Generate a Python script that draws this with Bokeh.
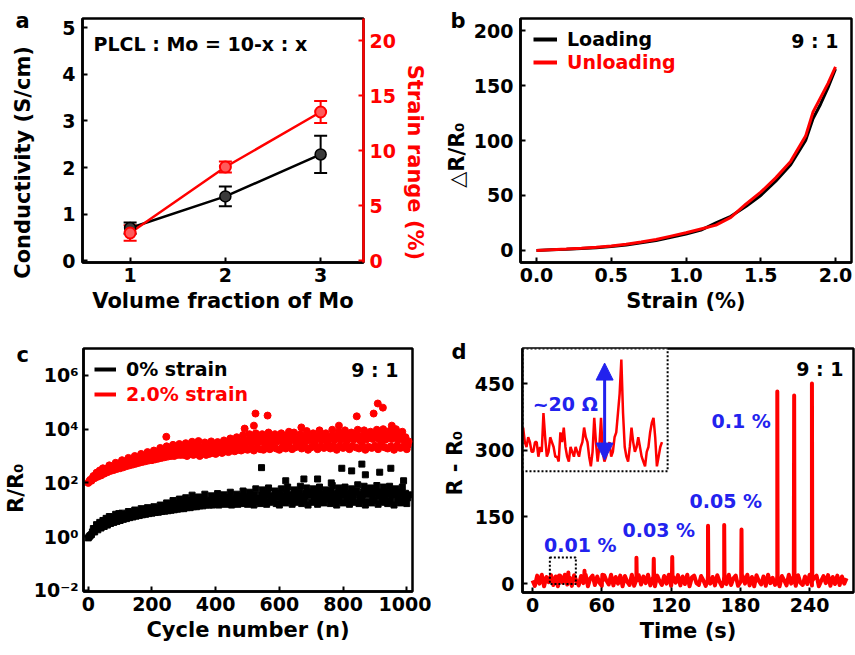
import numpy as np
from bokeh.plotting import figure
from bokeh.layouts import column, row
from bokeh.models import (Range1d, LinearAxis, FixedTicker, Whisker, TeeHead, ColumnDataSource,
                          Label, Legend, LegendItem, Arrow, NormalHead, NumeralTickFormatter)
from bokeh.embed import file_html
from bokeh.resources import INLINE

FONT = "DejaVu Sans"
RED = "#ff0000"
BLUE = "#2222ee"
NB = "\u00a0"  # non-breaking space used to nudge axis titles along their axis

# ---------------- data: panel a ----------------
a_fraction = [1, 2, 3]
a_conductivity = [0.70, 1.38, 2.28]
a_conductivity_err = [0.12, 0.21, 0.40]
a_strain_range = [2.5, 8.5, 13.5]
a_strain_range_err = [0.7, 0.5, 1.0]

# ---------------- data: panel b ----------------
b_strain = [0.0, 0.1, 0.2, 0.3, 0.4, 0.5, 0.6, 0.7, 0.8, 0.9, 1.0, 1.1, 1.2, 1.3, 1.4,
            1.5, 1.6, 1.7, 1.8, 1.85, 1.9, 1.95, 2.0]
b_loading = [0, 0.5, 1.0, 1.7, 2.5, 3.5, 5.0, 7.0, 9.0, 12, 15, 18.5, 25, 31, 40,
             50, 63, 78, 100, 120, 133, 148, 165]
b_unloading = [0, 0.6, 1.2, 1.9, 2.8, 4.0, 5.6, 7.6, 10, 13, 16, 19.5, 23, 30, 42,
               53, 66, 81, 104, 126, 139, 152, 167]

# ---------------- data: panel c ----------------
c_cycles = list(range(0, 1001, 10))
c_black_a = [1.1, 2.0, 2.8, 3.4, 4.0, 4.8, 5.6, 5.0, 6.8, 7.2,
             7.5, 6.0, 8.6, 7.6, 9.8, 8.6, 11, 9.4, 12, 10,
             13, 9.5, 15, 12, 18, 11, 22, 14, 25, 16,
             28, 18, 35, 21, 30, 23, 38, 20, 33, 26,
             40, 21, 36, 28, 45, 23, 38, 31, 50, 26,
             45, 31, 60, 26, 55, 36, 65, 29, 50, 41,
             60, 31, 70, 36, 55, 41, 75, 31, 65, 46,
             60, 36, 70, 41, 55, 46, 80, 36, 65, 51,
             70, 41, 60, 46, 85, 36, 75, 51, 65, 41,
             80, 46, 70, 41, 75, 51, 60, 46, 70, 41,
             36]
c_black_m = [1.0, 1.5, 2.0, 2.5, 2.9, 3.4, 3.9, 3.8, 4.6, 5.1,
             5.4, 5.0, 6.4, 6.1, 7.4, 7.0, 8.4, 7.8, 9.2, 8.6,
             10, 8.6, 11.5, 10.2, 13, 10, 15, 12, 17, 13,
             19, 15, 22, 17, 20, 18, 24, 17, 22, 20,
             26, 18, 25, 22, 29, 19, 26, 23, 32, 21,
             30, 25, 36, 23, 34, 28, 40, 24, 33, 30,
             38, 25, 42, 28, 35, 30, 45, 25, 40, 33,
             38, 29, 42, 31, 35, 34, 48, 29, 40, 36,
             42, 32, 38, 34, 50, 28, 45, 36, 40, 31,
             48, 34, 43, 31, 45, 37, 38, 34, 43, 31,
             28]
c_black_b = [0.9, 1.2, 1.5, 1.8, 2.1, 2.4, 2.7, 3.1, 3.4, 3.7,
             4.0, 4.4, 4.7, 5.1, 5.4, 5.8, 6.1, 6.5, 6.8, 7.2,
             7.5, 7.9, 8.1, 8.6, 8.9, 9.2, 9.6, 10, 10.5, 11,
             11, 12, 12, 13, 13, 14, 14, 15, 15, 15,
             16, 15, 17, 16, 18, 15, 17, 16, 18, 17,
             16, 19, 15, 20, 17, 22, 16, 19, 21, 17,
             15, 20, 18, 22, 16, 19, 24, 17, 21, 15,
             19, 23, 16, 20, 18, 25, 17, 21, 15, 22,
             18, 24, 16, 21, 19, 17, 23, 15, 20, 18,
             22, 16, 25, 19, 17, 21, 15, 23, 18, 20,
             17]
c_red_a = [130, 180, 240, 290, 350, 330, 450, 400, 560, 520,
           700, 600, 850, 750, 1000, 850, 1200, 950, 1400, 1100,
           1600, 1200, 2000, 1400, 2300, 1600, 2600, 1800, 2800, 2000,
           3000, 2000, 3400, 2300, 3600, 2100, 3200, 2500, 3500, 2300,
           3300, 2600, 3800, 2800, 4500, 3000, 5000, 3400, 6000, 3800,
           6500, 4000, 7000, 4500, 6500, 4200, 7500, 4800, 6500, 5000,
           7000, 4500, 6000, 5000, 7500, 4500, 6500, 5000, 8500, 5500,
           7000, 5000, 9000, 5500, 7000, 5000, 9500, 5500, 8000, 6000,
           9000, 5500, 7500, 6000, 9500, 5500, 9000, 6000, 8000, 6500,
           9500, 6500, 10000, 6000, 8500, 6500, 10000, 6000, 8000, 5000,
           3500]
c_red_m = [115, 150, 190, 230, 260, 280, 340, 350, 420, 430,
           500, 520, 600, 620, 700, 700, 850, 800, 950, 900,
           1100, 1000, 1300, 1200, 1500, 1300, 1700, 1400, 1900, 1600,
           2000, 1500, 2200, 1700, 2300, 1600, 2100, 1800, 2300, 1800,
           2200, 2000, 2500, 2200, 2800, 2400, 3200, 2600, 3600, 2800,
           3800, 3000, 4200, 3200, 3900, 3000, 4500, 3300, 4000, 3500,
           4200, 3300, 3800, 3600, 4500, 3200, 4000, 3600, 5000, 3800,
           4300, 3700, 5200, 3900, 4400, 3600, 5500, 3900, 4800, 4000,
           5200, 3900, 4500, 4100, 5500, 3800, 5300, 4100, 4800, 4300,
           5500, 4200, 5800, 4000, 5000, 4300, 5800, 4000, 4800, 3500,
           2500]
c_red_b = [100, 120, 150, 170, 190, 220, 250, 280, 300, 330,
           350, 380, 420, 450, 480, 520, 560, 600, 640, 680,
           700, 750, 800, 850, 900, 950, 1000, 1000, 1100, 1100,
           1100, 1000, 1200, 1100, 1200, 1000, 1300, 1100, 1200, 1300,
           1200, 1400, 1300, 1500, 1400, 1600, 1500, 1700, 1600, 1800,
           1700, 1900, 1600, 2000, 1800, 1700, 2100, 1800, 2200, 1900,
           1700, 2200, 1900, 2400, 1800, 2100, 2600, 1900, 2300, 1700,
           2100, 2500, 1800, 2300, 2000, 2700, 1900, 2300, 1700, 2400,
           2000, 2600, 1800, 2300, 2100, 1900, 2500, 1700, 2200, 2000,
           2400, 1800, 2700, 2100, 1900, 2300, 1700, 2500, 2000, 2200,
           1800]
c_black_out_cycle = [544, 796, 827, 859, 915, 950, 990, 620, 677, 720, 763, 870]
c_black_out_value = [370, 350, 280, 500, 250, 350, 120, 120, 140, 140, 100, 200]
c_red_out_cycle = [245, 491, 520, 525, 563, 630, 669, 787, 843, 896, 909, 925, 953]
c_red_out_value = [5200, 10500, 13500, 38000, 32000, 8000, 11600, 13500, 30000, 38000,
                   90000, 63000, 13500]
c_log_ticks = [0.01, 1, 100, 10000, 1000000]
c_log_labels = ["10\u207b\u00b2", "10\u2070", "10\u00b2", "10\u2074", "10\u2076"]

# ---------------- data: panel d ----------------
d_base_time = list(range(0, 273, 2))
d_base_noise = [7, -5, 18, 0, 20, -6, 15, 3, 19, -3, 16, -6, 18, 2, 20, -2, 14, -5, 19, 6,
                -4, 17, 1, 20, -6, 12, 18, -3, 16, 2, -5, 19, 7, -2, 20, -4, 15, 0, 18, -6,
                17, 4, -3, 20, -5, 13, 19, -2, 16, 1, 20, -4, 12, -6, 18, 6, -3, 17, 0, 20,
                -5, 15, 2, 19, -4, 16, -1, 20, -6, 14, 18, 1, -3, 17, 7, -5, 20, 0, 15, -4,
                19, 4, -6, 16, -1, 20, -3, 12, 18, -5, 3, 17, 0, 20, -4, 15, -6, 19, 6, -2,
                16, -5, 20, 1, 13, -3, 18, -6, 17, 7, -4, 20, 0, 15, -5, 19, 2, -3, 16, -1,
                20, -4, 13, 18, -6, 6, 17, 1, 19, -5, 15, -1, 18, -3, 16, 0, 12]
d_spike_time = [23, 31, 45, 60.5, 90, 105, 121, 152, 166, 181, 212, 226.6, 242]
d_spike_peak = [18, 25, 29, 20, 58, 56, 60, 130, 132, 122, 432, 423, 450]
d_spike_base = 7
d_spike_halfwidth = 0.3
d_strain_labels = ["0.01 %", "0.03 %", "0.05 %", "0.1 %"]
d_strain_label_t = [10, 78, 136, 155]
d_strain_label_r = [86, 121, 187, 365]
d_zoom_window_t = [15, 37.5]
d_zoom_window_r = [-1, 59]
# inset (zoom of the 0.01 % region)
d_inset_t0 = 15.1
d_inset_dt = 0.266
d_inset_r = [9, 6, 5, 7, 6, 4, 4, 6, 6, 3, 5, 4, 12, 7, 3, 4, 7, 6, 5, 3,
             3, 2, 8, 6, 9, 5, 3, 2, 5, 4, 3, 5, 4, 3, 5, 6, 9, 7, 6, 3,
             1, 4, 11, 6, 2, 5, 11, 4, 2, 3, 5, 6, 3, 4, 7, 8, 12, 16, 23, 12,
             5, 3, 2, 5, 9, 6, 4, 5, 7, 5, 3, 2, 1, 4, 5, 8, 10, 11, 7, 1,
             3, 5, 6]
d_inset_box_t = [15.0, 37.8]
d_inset_box_r = [0, 25.3]
d_noise_arrow_t = 27.9
d_noise_arrow_r = [2.3, 22.3]
d_noise_label = "~20 \u03a9"
d_noise_label_pos = (16.6, 13.8)


def style_axis(ax, color="black", title_size="21px"):
    ax.axis_line_color = color
    ax.axis_line_width = 2.5
    ax.major_tick_line_color = color
    ax.major_tick_line_width = 2
    ax.major_tick_in = 5
    ax.major_tick_out = 0
    ax.minor_tick_line_color = None
    ax.major_label_text_font = FONT
    ax.major_label_text_font_style = "bold"
    ax.major_label_text_font_size = "19px"
    ax.major_label_text_color = color
    ax.axis_label_text_font = FONT
    ax.axis_label_text_font_style = "bold"
    ax.axis_label_text_font_size = title_size
    ax.axis_label_text_color = color
    ax.major_label_standoff = 5
    ax.axis_label_standoff = 4


def make_fig(fw, fh, left, right, top, bottom, letter, letter_dx, letter_standoff, **kw):
    p = figure(frame_width=fw, frame_height=fh, min_border_left=left, min_border_right=right,
               min_border_top=top, min_border_bottom=bottom, output_backend="svg",
               toolbar_location=None, **kw)
    p.grid.visible = False
    p.outline_line_color = "black"
    p.outline_line_width = 2.5
    p.background_fill_color = "white"
    p.border_fill_color = "white"
    p.title.text = letter
    p.title.align = "left"
    p.title.offset = letter_dx
    p.title.standoff = letter_standoff
    p.title.vertical_align = "bottom"
    p.title.text_font = FONT
    p.title.text_font_style = "bold"
    p.title.text_font_size = "21px"
    p.title.text_color = "black"
    return p


def txt(p, text, x, y, color="black", size="19px", align="left", baseline="middle",
        xo=0, yo=0, **kw):
    p.add_layout(Label(x=x, y=y, text=text, text_color=color, text_font=FONT,
                       text_font_style="bold", text_font_size=size, text_align=align,
                       text_baseline=baseline, x_offset=xo, y_offset=yo, **kw))


def line_legend(p, label, renderer, color, loc, gw=24):
    leg = Legend(items=[LegendItem(label=label, renderers=[renderer])], location=loc,
                 label_text_font=FONT, label_text_font_style="bold", label_text_font_size="19px",
                 label_text_color=color, glyph_width=gw, glyph_height=22, label_height=22,
                 label_standoff=10, padding=0, margin=0, spacing=0, border_line_color=None,
                 background_fill_alpha=0)
    p.add_layout(leg)


# ================= panel a =================
pa = make_fig(281, 244, 82, 67, 18, 53, "a", -67, -28,
              x_range=Range1d(0.5, 3.45), y_range=Range1d(-0.04, 5.2))
pa.extra_y_ranges = {"right": Range1d(-0.18, 22)}
pa.xaxis.ticker = FixedTicker(ticks=a_fraction)
pa.yaxis.ticker = FixedTicker(ticks=[0, 1, 2, 3, 4, 5])
pa.xaxis.axis_label = "Volume fraction of Mo"
pa.yaxis.axis_label = "Conductivity (S/cm)" + NB * 6
ax_r = LinearAxis(y_range_name="right", axis_label=NB * 6 + "Strain range (%)",
                  ticker=FixedTicker(ticks=[0, 5, 10, 15, 20]))
pa.add_layout(ax_r, "right")
for ax in pa.below:
    style_axis(ax)
for ax in pa.left:
    style_axis(ax)
    ax.major_label_standoff = 7
    ax.axis_label_standoff = 24
style_axis(ax_r, RED)
ax_r.major_label_standoff = 6

pa.line(a_fraction, a_conductivity, line_color="black", line_width=2.5)
pa.line(a_fraction, a_strain_range, line_color=RED, line_width=2.5, y_range_name="right")
src_c = ColumnDataSource(dict(x=a_fraction,
                              up=[v + e for v, e in zip(a_conductivity, a_conductivity_err)],
                              lo=[v - e for v, e in zip(a_conductivity, a_conductivity_err)]))
src_s = ColumnDataSource(dict(x=a_fraction,
                              up=[v + e for v, e in zip(a_strain_range, a_strain_range_err)],
                              lo=[v - e for v, e in zip(a_strain_range, a_strain_range_err)]))
pa.add_layout(Whisker(source=src_c, base="x", upper="up", lower="lo", line_color="black",
                      line_width=2,
                      upper_head=TeeHead(size=13, line_width=2, line_color="black"),
                      lower_head=TeeHead(size=13, line_width=2, line_color="black")))
pa.add_layout(Whisker(source=src_s, base="x", upper="up", lower="lo", line_color=RED,
                      line_width=2, y_range_name="right",
                      upper_head=TeeHead(size=13, line_width=2, line_color=RED),
                      lower_head=TeeHead(size=13, line_width=2, line_color=RED)))
pa.scatter(a_fraction, a_conductivity, size=11, fill_color="#3a3a3a", line_color="black",
           line_width=1.5)
pa.scatter(a_fraction, a_strain_range, size=11, fill_color="#ff5a5a", line_color=RED,
           line_width=2, y_range_name="right")
txt(pa, "PLCL : Mo = 10-x : x", 0.5, 5.2, xo=11, yo=-25)

# ================= panel b =================
pb = make_fig(331, 244, 90, 4, 18, 53, "b", -70, -28,
              x_range=Range1d(-0.107, 2.107), y_range=Range1d(-11, 211))
pb.xaxis.ticker = FixedTicker(ticks=[0, 0.5, 1.0, 1.5, 2.0])
pb.xaxis.formatter = NumeralTickFormatter(format="0.0")
pb.yaxis.ticker = FixedTicker(ticks=[0, 50, 100, 150, 200])
pb.xaxis.axis_label = "Strain (%)"
pb.yaxis.axis_label = "\u25b3R/R\u2080" + NB * 4
for ax in pb.below + pb.left:
    style_axis(ax)
for ax in pb.left:
    ax.major_label_standoff = 7
    ax.axis_label_standoff = 2
pb.line(b_strain, b_loading, line_color="black", line_width=3)
pb.line(b_strain, b_unloading, line_color=RED, line_width=3)
kb = pb.line(b_strain[:1], b_loading[:1], line_color="black", line_width=4)
ub = pb.line(b_strain[:1], b_unloading[:1], line_color=RED, line_width=4)
line_legend(pb, "Loading", kb, "black", (13, 212))
line_legend(pb, "Unloading", ub, RED, (13, 189))
txt(pb, "9 : 1", 2.107, 211, align="right", xo=-13, yo=-22)

# ================= panel c =================
pc = make_fig(329, 243, 82, 19, 33, 63, "c", -67, -36, x_range=Range1d(-15, 1018),
              y_range=Range1d(10 ** -2.04, 1e7), y_axis_type="log")
pc.xaxis.ticker = FixedTicker(ticks=[0, 200, 400, 600, 800, 1000])
pc.yaxis.ticker = FixedTicker(ticks=c_log_ticks)
pc.yaxis.major_label_overrides = {t: l for t, l in zip(c_log_ticks, c_log_labels)}
pc.xaxis.axis_label = "Cycle number (n)"
pc.yaxis.axis_label = "R/R\u2080" + NB * 5
for ax in pc.below + pc.left:
    style_axis(ax)
for ax in pc.left:
    ax.major_label_standoff = 5
    ax.axis_label_standoff = 3
for off, vals in ((0, c_red_b), (3, c_red_m), (6, c_red_a)):
    pc.scatter([c + off for c in c_cycles], vals, marker="circle", size=7, color=RED)
pc.scatter(c_red_out_cycle, c_red_out_value, marker="circle", size=7, color=RED)
for off, vals in ((0, c_black_b), (3, c_black_m), (6, c_black_a)):
    pc.scatter([c + off for c in c_cycles], vals, marker="square", size=6, color="black")
pc.scatter(c_black_out_cycle, c_black_out_value, marker="square", size=6, color="black")
kc = pc.line(c_cycles[:1], c_black_b[:1], line_color="black", line_width=4)
rc = pc.line(c_cycles[:1], c_red_b[:1], line_color=RED, line_width=4)
line_legend(pc, "0% strain", kc, "black", (11, 211), gw=22)
line_legend(pc, "2.0% strain", rc, RED, (11, 186), gw=22)
txt(pc, "9 : 1", 1018, 1e7, align="right", xo=-14, yo=-21)

# ================= panel d =================
pd = make_fig(331, 244, 91, 3, 33, 63, "d", -71, -31,
              x_range=Range1d(-8.7, 278), y_range=Range1d(-20, 529))
pd.extra_x_ranges = {"inset": Range1d(15, 67)}
pd.extra_y_ranges = {"inset": Range1d(-25, 25.3)}
pd.xaxis.ticker = FixedTicker(ticks=[0, 60, 120, 180, 240])
pd.yaxis.ticker = FixedTicker(ticks=[0, 150, 300, 450])
pd.xaxis.axis_label = "Time (s)"
pd.yaxis.axis_label = NB * 2 + "R - R\u2080"
for ax in pd.below + pd.left:
    style_axis(ax)
for ax in pd.left:
    ax.major_label_standoff = 8
    ax.axis_label_standoff = 5

st = np.array(d_spike_time, dtype=float)
tt = np.concatenate([np.array(d_base_time, dtype=float), st - d_spike_halfwidth, st,
                     st + d_spike_halfwidth])
rr = np.concatenate([np.array(d_base_noise, dtype=float), np.full(len(st), d_spike_base),
                     np.array(d_spike_peak, dtype=float), np.full(len(st), d_spike_base)])
order = np.argsort(tt, kind="stable")
pd.line(tt[order], rr[order], line_color=RED, line_width=4, line_join="round")

pd.quad(left=[d_zoom_window_t[0]], right=[d_zoom_window_t[1]], bottom=[d_zoom_window_r[0]],
        top=[d_zoom_window_r[1]], fill_alpha=0, line_color="black", line_dash="2 2", line_width=2)

pd.quad(left=[d_inset_box_t[0]], right=[d_inset_box_t[1]], bottom=[d_inset_box_r[0]],
        top=[d_inset_box_r[1]], fill_color="white", line_color="black", line_dash="2 2",
        line_width=2, x_range_name="inset", y_range_name="inset")
inset_t = [d_inset_t0 + d_inset_dt * i for i in range(len(d_inset_r))]
pd.line(inset_t, d_inset_r, line_color=RED, line_width=2.5, x_range_name="inset",
        y_range_name="inset")
pd.add_layout(Arrow(x_start=d_noise_arrow_t, y_start=d_noise_arrow_r[0], x_end=d_noise_arrow_t,
                    y_end=d_noise_arrow_r[1], line_color=BLUE, line_width=3,
                    start=NormalHead(size=17, fill_color=BLUE, line_color=BLUE),
                    end=NormalHead(size=17, fill_color=BLUE, line_color=BLUE),
                    x_range_name="inset", y_range_name="inset"))
txt(pd, d_noise_label, d_noise_label_pos[0], d_noise_label_pos[1], color=BLUE,
    x_range_name="inset", y_range_name="inset")
for s, x, y in zip(d_strain_labels, d_strain_label_t, d_strain_label_r):
    txt(pd, s, x, y, color=BLUE)
txt(pd, "9 : 1", 278, 529, align="right", xo=-10, yo=-20)

layout = column(row(pa, pb, spacing=0), row(pc, pd, spacing=0), spacing=0)
open("out.html", "w").write(file_html(layout, INLINE))
